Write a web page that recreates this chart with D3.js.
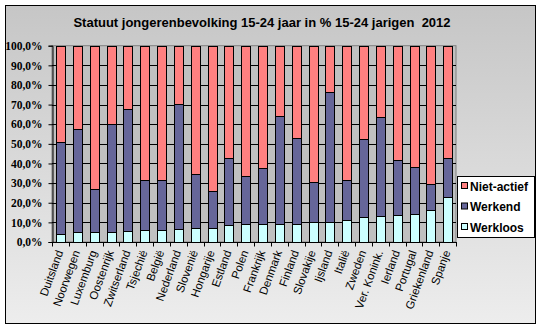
<!DOCTYPE html>
<html><head><meta charset="utf-8">
<script src="https://cdn.jsdelivr.net/npm/d3@7"></script>
<style>html,body{margin:0;padding:0;background:#fff}svg{display:block}</style>
</head><body>
<script>
const countries = ["Duitsland","Noorwegen","Luxemburg","Oostenrijk","Zwitserland","Tsjechië","België","Nederland","Slovenië","Hongarije","Estland","Polen","Frankrijk","Denmark","Finland","Slovakije","Ijsland","Italië","Zweden","Ver. Konink.","Ierland","Portugal","Griekenland","Spanje"];
const werkloos   = [3.9,4.9,4.9,4.9,5.4,5.9,5.9,6.5,7.0,7.0,8.5,9.0,9.0,9.0,9.0,10.0,10.0,11.0,12.6,13.1,13.6,14.1,16.1,22.8];
const werkend    = [46.9,52.5,21.9,55.0,62.2,25.5,25.5,63.6,27.5,19.0,34.1,24.4,28.5,55.0,43.8,20.6,66.2,20.4,39.7,50.4,28.0,23.9,13.3,19.8];
const nietActief = [49.2,42.6,73.2,40.1,32.4,68.6,68.6,29.9,65.5,74.0,57.4,66.6,62.5,36.0,47.2,69.4,23.8,68.6,47.7,36.5,58.4,62.0,70.6,57.4];
const seriesNames = ["Werkloos","Werkend","Niet-actief"];
const seriesColors = ["#CCFFFF","#666699","#FF8080"];
const yTicks = [0,10,20,30,40,50,60,70,80,90,100];
const title = "Statuut jongerenbevolking 15-24 jaar in % 15-24 jarigen  2012";

const W = 542, H = 329;
const svg = d3.select("body").append("svg").attr("width", W).attr("height", H);
const defs = svg.append("defs");
const grad = defs.append("linearGradient").attr("id","bg").attr("x1",0).attr("y1",0).attr("x2",0).attr("y2",1);
grad.append("stop").attr("offset","0%").attr("stop-color","#c6c6c6");
grad.append("stop").attr("offset","100%").attr("stop-color","#ededed");

svg.append("rect").attr("x",5.5).attr("y",5.5).attr("width",530).attr("height",318)
  .attr("fill","url(#bg)").attr("stroke","#000").attr("stroke-width",1);

svg.append("text").attr("x",262).attr("y",27).attr("text-anchor","middle")
  .style("white-space","pre")
  .attr("font-family","Liberation Sans, Arial, sans-serif").attr("font-weight","bold")
  .attr("font-size","13px").text(title);

const pLeft = 52, pRight = 456, pTop = 45.7, pBottom = 242;
const x = d3.scaleBand().domain(countries).range([pLeft, pRight]).paddingInner(0.485).paddingOuter(0.2425);
const y = d3.scaleLinear().domain([0,100]).range([pBottom, pTop]);

svg.append("rect").attr("x",pLeft).attr("y",pTop).attr("width",pRight-pLeft).attr("height",pBottom-pTop)
  .attr("fill","#C0C0C0").attr("stroke","#808080").attr("stroke-width",1);

svg.append("g").selectAll("line").data(yTicks.filter(t=>t>0 && t<100)).join("line")
  .attr("x1",pLeft).attr("x2",pRight).attr("y1",d=>Math.round(y(d))+0.5).attr("y2",d=>Math.round(y(d))+0.5)
  .attr("stroke","#000").attr("stroke-width",1);

const rows = countries.map((c,i)=>({country:c, Werkloos:werkloos[i], Werkend:werkend[i], "Niet-actief":nietActief[i]}));
const stack = d3.stack().keys(seriesNames)(rows);
svg.append("g").selectAll("g").data(stack).join("g")
  .attr("fill",(d,i)=>seriesColors[i])
  .selectAll("rect").data(d=>d).join("rect")
  .attr("x",d=>Math.round(x(d.data.country))+0.5)
  .attr("width",Math.round(x.bandwidth()))
  .attr("y",d=>Math.round(y(d[1]))+0.5)
  .attr("height",d=>Math.round(y(d[0]))-Math.round(y(d[1])))
  .attr("stroke","#000").attr("stroke-width",1);

const yAxis = d3.axisLeft(y).tickValues(yTicks).tickSize(4).tickPadding(6)
  .tickFormat(d=>d3.format(".1f")(d).replace(".",",")+"%");
const ga = svg.append("g").attr("transform",`translate(${pLeft+0.5},0)`).call(yAxis);
ga.select(".domain").attr("stroke","#000");
ga.selectAll(".tick line").attr("stroke","#000");
ga.selectAll(".tick text").attr("font-family","Liberation Serif, Times New Roman, serif")
  .attr("font-weight","bold").attr("font-size","11.5px").attr("fill","#000");

svg.append("line").attr("x1",pLeft).attr("x2",pRight).attr("y1",Math.round(pBottom)+0.5).attr("y2",Math.round(pBottom)+0.5).attr("stroke","#000");
const bounds = d3.range(countries.length+1).map(i=>pLeft + i*(pRight-pLeft)/countries.length);
svg.append("g").selectAll("line").data(bounds).join("line")
  .attr("x1",d=>Math.round(d)+0.5).attr("x2",d=>Math.round(d)+0.5)
  .attr("y1",Math.round(pBottom)).attr("y2",Math.round(pBottom)+4.5).attr("stroke","#000");

svg.append("g").selectAll("text").data(countries).join("text")
  .attr("transform",d=>`translate(${x(d)+x.bandwidth()/2+3},${pBottom+10}) rotate(-70)`)
  .attr("text-anchor","end")
  .attr("font-family","Liberation Sans, Arial, sans-serif").attr("font-size","11.5px").attr("fill","#000")
  .text(d=>d);

const lg = svg.append("g");
lg.append("rect").attr("x",457.5).attr("y",176.5).attr("width",77).attr("height",61)
  .attr("fill","#fff").attr("stroke","#000");
const legItems = [2,1,0];
legItems.forEach((si,k)=>{
  const cy = 186 + k*20.5;
  lg.append("rect").attr("x",461.5).attr("y",cy-3.5).attr("width",6).attr("height",6)
    .attr("fill",seriesColors[si]).attr("stroke","#000");
  lg.append("text").attr("x",470).attr("y",cy+4.5)
    .attr("font-family","Liberation Sans, Arial, sans-serif").attr("font-weight","bold")
    .attr("font-size","12px").text(seriesNames[si]);
});
</script>
</body></html>
